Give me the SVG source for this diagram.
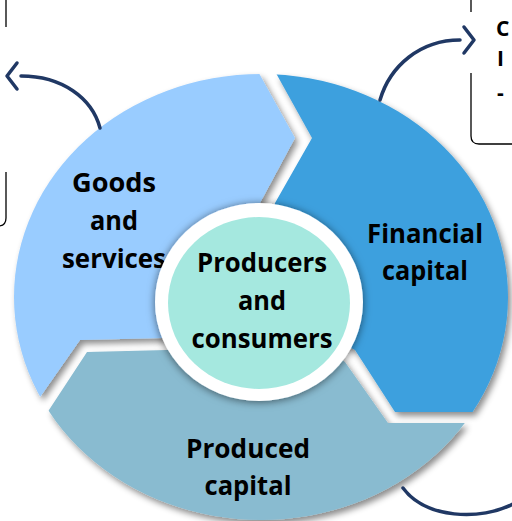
<svg xmlns="http://www.w3.org/2000/svg" width="512" height="521" viewBox="0 0 512 521">
<style>
  .lbl{font-family:"Open Sans","Liberation Sans",sans-serif;font-weight:bold;font-size:27px;fill:#000;text-anchor:middle}
  .side{font-family:"Open Sans","Liberation Sans",sans-serif;font-weight:bold;font-size:21px;fill:#000}
  .conn{fill:none;stroke:#203864;stroke-width:3.5;stroke-linecap:round}
  .box{fill:none;stroke:#000;stroke-width:1.3}
</style>
<defs>
  <clipPath id="ring"><ellipse cx="261" cy="297" rx="247" ry="223"/></clipPath>
  <filter id="sh" x="-20%" y="-20%" width="140%" height="140%">
    <feDropShadow dx="3" dy="4" stdDeviation="3" flood-color="#000" flood-opacity="0.45"/>
  </filter>
  <filter id="glow" x="-30%" y="-30%" width="160%" height="160%">
    <feDropShadow dx="0" dy="1" stdDeviation="4" flood-color="#000" flood-opacity="0.55"/>
  </filter>
  <marker id="chev" markerUnits="userSpaceOnUse" markerWidth="40" markerHeight="40" viewBox="-20 -20 40 40" refX="0" refY="0" orient="auto" overflow="visible">
    <path d="M4,-13 L14,0 L4,13" fill="none" stroke="#203864" stroke-width="3.5" stroke-linecap="round" stroke-linejoin="round"/>
  </marker>
</defs>

<g id="boxes">
  <path class="box" d="M6 0 L6 27 M6 172 L6 218 Q6 226 -2 226"/>
  <path class="box" d="M471 0 L471 12 M471 73 L471 136 Q471 144 479 144 L515 144"/>
  <text class="side" x="496" y="36">C</text>
  <text class="side" x="497" y="66">I</text>
  <text class="side" x="497" y="100">-</text>
</g>

<g id="goods">
  <g filter="url(#sh)">
    <g clip-path="url(#ring)">
      <path fill="#99CCFF" d="M259 300 L260 203 L295 138 L260 75 L243 44 L-20 40 L-20 440 L10 440 L38 400 L80 340 L163 338 Z"/>
    </g>
  </g>
  <text class="lbl" x="114" y="192" textLength="84" lengthAdjust="spacingAndGlyphs">Goods</text>
  <text class="lbl" x="114" y="230" textLength="48" lengthAdjust="spacingAndGlyphs">and</text>
  <text class="lbl" x="114" y="268" textLength="104" lengthAdjust="spacingAndGlyphs">services</text>
</g>

<g id="financial">
  <g filter="url(#sh)">
    <g clip-path="url(#ring)">
      <path fill="#3EA0DE" d="M259 300 L275 203 L312 138 L277 75 L260 44 L560 40 L560 412 L395 412 L355 350 Z"/>
    </g>
  </g>
  <text class="lbl" x="425" y="243" textLength="116" lengthAdjust="spacingAndGlyphs">Financial</text>
  <text class="lbl" x="425" y="280" textLength="86" lengthAdjust="spacingAndGlyphs">capital</text>
</g>

<g id="produced">
  <g filter="url(#sh)">
    <g clip-path="url(#ring)">
      <path fill="#89BBD0" d="M259 300 L345 362 L388 423 L560 423 L560 560 L-20 560 L-20 454 L20 454 L47 413 L87 352 L167 350 Z"/>
    </g>
  </g>
  <text class="lbl" x="248" y="458" textLength="124" lengthAdjust="spacingAndGlyphs">Produced</text>
  <text class="lbl" x="248" y="495" textLength="87" lengthAdjust="spacingAndGlyphs">capital</text>
</g>

<g id="center">
  <ellipse cx="259" cy="302" rx="104" ry="99" fill="#fff" filter="url(#glow)"/>
  <ellipse cx="259" cy="303" rx="91" ry="86" fill="#A5E8DF"/>
  <text class="lbl" x="262" y="272" textLength="130" lengthAdjust="spacingAndGlyphs">Producers</text>
  <text class="lbl" x="262" y="310" textLength="48" lengthAdjust="spacingAndGlyphs">and</text>
  <text class="lbl" x="262" y="348" textLength="141" lengthAdjust="spacingAndGlyphs">consumers</text>
</g>

<g id="connectors">
  <path class="conn" marker-end="url(#chev)" d="M100 128 C92 98 62 76 21 76"/>
  <path class="conn" marker-end="url(#chev)" d="M380 100 C390 66 420 40 460 40"/>
  <path class="conn" d="M403 488 C425 518 480 522 515 503"/>
</g>
</svg>
